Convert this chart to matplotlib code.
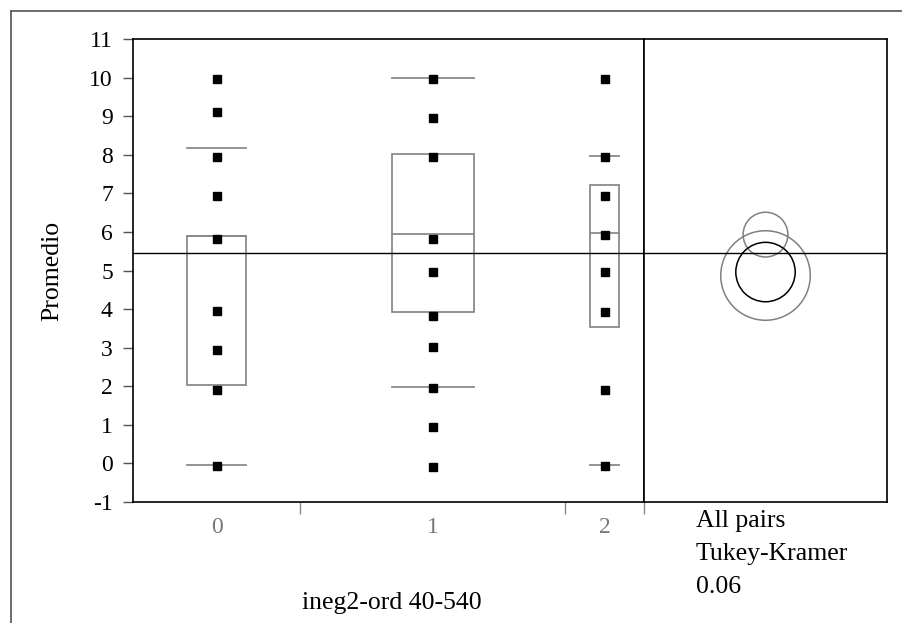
import matplotlib.pyplot as plt
from matplotlib.lines import Line2D
from matplotlib.patches import Rectangle, Circle

plt.rcParams['font.family'] = ['Liberation Serif', 'DejaVu Serif']

# groups and sample counts (used for the JMP style proportional x widths)
groups = ['0', '1', '2']
group_n = [17, 27, 8]

# Promedio values per group
vals_0 = [9.97, 9.11, 7.94, 6.93, 5.82, 3.95, 2.95, 1.91, -0.06]
vals_1 = [9.97, 8.95, 7.93, 5.82, 4.97, 3.83, 3.03, 1.96, 0.95, -0.09]
vals_2 = [9.97, 7.93, 6.94, 5.93, 4.97, 3.93, 1.90, -0.06]

# quantiles: 10%, 25%, median, 75%, 90%
q10 = [-0.03, 1.99, -0.03]
q25 = [2.02, 3.93, 3.53]
q50 = [5.90, 5.94, 5.96]
q75 = [5.90, 8.02, 7.21]
q90 = [8.18, 10.0, 7.97]

grand_mean = 5.45

# comparison circles: center, radius
circ_center = [5.93, 4.87, 4.96]
circ_radius = [0.58, 1.16, 0.77]
circ_color = ['#808080', '#808080', 'black']

W, H = 902, 623
fig = plt.figure(figsize=(W / 100, H / 100), dpi=100)

def fx(px):
    return px / W

def fy(py):
    return 1 - py / H

left, mid, right, top, bottom = 133, 644, 887, 39, 502
ax = fig.add_axes([fx(left), fy(bottom), fx(mid - left), fy(top) - fy(bottom)])
ax2 = fig.add_axes([fx(mid), fy(bottom), fx(right - mid), fy(top) - fy(bottom)])

ylo, yhi = -1, 11
total = sum(group_n)
ax.set_xlim(0, total)
ax.set_ylim(ylo, yhi)

edges = [0]
for n in group_n:
    edges.append(edges[-1] + n)
centers = [(edges[i] + edges[i + 1]) / 2 for i in range(3)]
box_frac = [0.355, 0.31, 0.375]

all_vals = [vals_0, vals_1, vals_2]
box_col = '#8a8a8a'
for i in range(3):
    c = centers[i]
    hw = group_n[i] * box_frac[i] / 2
    ax.add_patch(Rectangle((c - hw, q25[i]), 2 * hw, q75[i] - q25[i],
                           fill=False, edgecolor=box_col, lw=1.3, zorder=2))
    ax.plot([c - hw, c + hw], [q50[i], q50[i]], color=box_col, lw=1.3, zorder=2)
    ax.plot([c - hw, c + hw], [q10[i], q10[i]], color=box_col, lw=1.3, zorder=2)
    ax.plot([c - hw, c + hw], [q90[i], q90[i]], color=box_col, lw=1.3, zorder=2)
    ax.plot([c] * len(all_vals[i]), all_vals[i], 's', color='black', ms=5.8,
            zorder=4, linestyle='none')

ax.axhline(grand_mean, color='black', lw=1.0, zorder=3)

ax.set_yticks(range(-1, 12))
ax.set_yticklabels([str(v) for v in range(-1, 12)])
ax.tick_params(axis='y', direction='out', length=7.5, width=1, color='#555555',
               labelsize=17, pad=7)

ax.set_xticks(edges[1:])
ax.set_xticklabels([])
ax.set_xticks(centers, minor=True)
ax.set_xticklabels(groups, minor=True)
ax.tick_params(axis='x', which='major', direction='out', length=8.5, width=1,
               color='#888888')
ax.tick_params(axis='x', which='minor', length=0, labelsize=17,
               labelcolor='#777777', pad=11)

for sp in ax.spines.values():
    sp.set_linewidth(1.2)
    sp.set_color('black')

# comparison circles panel
ppu = (bottom - top) / (yhi - ylo)
xw = (right - mid) / ppu
ax2.set_xlim(0, xw)
ax2.set_ylim(ylo, yhi)
ax2.axhline(grand_mean, color='black', lw=1.0)
for cy, r, col in zip(circ_center, circ_radius, circ_color):
    ax2.add_patch(Circle((xw / 2, cy), r, fill=False, edgecolor=col, lw=1.1))
ax2.set_xticks([])
ax2.set_yticks([])
for sp in ax2.spines.values():
    sp.set_linewidth(1.2)
    sp.set_color('black')

fig.text(fx(52), fy(270.5), 'Promedio', rotation=90, ha='center', va='center',
         fontsize=18.5)
fig.text(fx(392), fy(603), 'ineg2-ord 40-540', ha='center', va='center',
         fontsize=18.5)
fig.text(fx(696), fy(521), 'All pairs', ha='left', va='center', fontsize=18.5)
fig.text(fx(696), fy(554), 'Tukey-Kramer', ha='left', va='center', fontsize=18.5)
fig.text(fx(696), fy(587), '0.06', ha='left', va='center', fontsize=18.5)

# outer frame (left and top edges)
fig.add_artist(Line2D([fx(11), fx(11)], [0, fy(11)], color='#606060', lw=1.3))
fig.add_artist(Line2D([fx(11), 1], [fy(11), fy(11)], color='#606060', lw=1.3))

fig.savefig('out.png', dpi=100)
